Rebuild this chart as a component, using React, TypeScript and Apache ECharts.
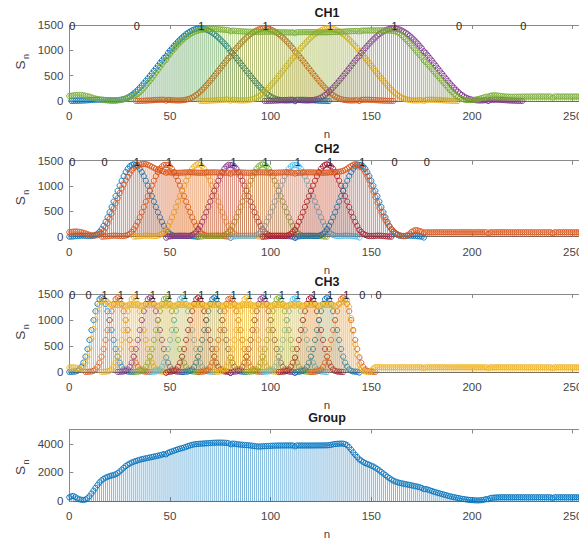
import React, { useEffect, useRef } from "react";
import * as echarts from "echarts";

// ---------- DATA ----------
const X_MAX = 256;
const X_TICK = 50;

// MATLAB default colour order
const COLOR_ORDER = ["#0072BD", "#D95319", "#EDB120", "#7E2F8E", "#77AC30", "#4DBEEE", "#A2142F"];

// CH1: symbol bits written on top, their n positions, pulse centres, one pulse profile (offsets -64..64), sum curve
const CH1_BITS = [0, 0, 1, 1, 1, 1, 0, 0];
const CH1_BIT_N = [0, 32, 64, 96, 128, 160, 192, 224];
const CH1_CENTERS = [65, 97, 129, 161];
const CH1_PULSE = [
  1, 2, 3, 4, 5, 7, 9, 11, 14, 17, 20, 22, 24, 25, 25, 24, 22, 19, 16, 13, 11, 10, 11, 14, 19, 26, 36, 50, 68, 91, 118, 149,
  184, 222, 263, 306, 351, 398, 446, 495, 545, 595, 646, 697, 748, 799, 849, 899, 948, 996, 1043, 1089, 1133, 1175, 1215,
  1253, 1288, 1320, 1348, 1373, 1394, 1411, 1424, 1432,
  1435,
  1432, 1424, 1411, 1394, 1373, 1348, 1320, 1288, 1253, 1215, 1175, 1133, 1089, 1043, 996, 948, 899, 849, 799, 748, 697,
  646, 595, 545, 495, 446, 398, 351, 306, 263, 222, 184, 149, 118, 91, 68, 50, 36, 26, 19, 14, 11, 10, 11, 13, 16, 19, 22,
  24, 25, 25, 24, 22, 20, 17, 14, 11, 9, 7, 5, 4, 3, 2, 1,
];
const CH1_SUM = [
  100, 105, 110, 115, 118, 120, 118, 112, 104, 95,
  85, 72, 60, 48, 38, 30, 24, 20, 17, 15,
  14, 13, 13, 14, 16, 20, 26, 34, 45, 58,
  72, 88, 105, 120, 140, 170, 210, 255, 305, 350,
  400, 450, 505, 560, 615, 670, 725, 780, 830, 880,
  930, 980, 1025, 1070, 1115, 1155, 1195, 1230, 1262, 1290,
  1318, 1342, 1362, 1378, 1390, 1400, 1406, 1411, 1415, 1418,
  1420, 1420, 1420, 1418, 1416, 1413, 1410, 1406, 1402, 1398,
  1394, 1390, 1386, 1382, 1379, 1376, 1373, 1371, 1369, 1367,
  1366, 1365, 1364, 1364, 1364, 1365, 1366, 1367, 1368, 1368,
  1367, 1366, 1364, 1362, 1360, 1358, 1356, 1355, 1354, 1354,
  1354, 1355, 1356, 1357, 1358, 1359, 1360, 1360, 1360, 1360,
  1360, 1359, 1358, 1357, 1356, 1355, 1355, 1355, 1356, 1357,
  1358, 1360, 1362, 1364, 1366, 1368, 1370, 1372, 1374, 1376,
  1378, 1380, 1382, 1384, 1386, 1388, 1389, 1390, 1391, 1392,
  1393, 1394, 1395, 1396, 1396, 1396, 1395, 1394, 1392, 1390,
  1387, 1383, 1375, 1360, 1336, 1300, 1260, 1220, 1180, 1139,
  1093, 1047, 1001, 955, 908, 862, 816, 770, 723, 677,
  631, 585, 540, 494, 448, 402, 356, 310, 263, 217,
  180, 140, 105, 75, 53, 38, 28, 20, 18, 18,
  20, 24, 30, 38, 48, 60, 72, 85, 96, 104,
  110, 112, 110, 106, 100, 95, 90, 87, 85, 84,
  84, 84, 85, 85, 86, 86, 86, 87, 87, 87,
  87, 88, 88, 88, 88, 88, 88, 88, 88, 88,
  88, 88, 88, 88, 88, 88, 88, 88, 88, 88,
  88, 88, 88, 88, 88, 88,
];

// CH2
const CH2_BITS = [0, 0, 1, 1, 1, 1, 1, 1, 1, 1, 0, 0];
const CH2_BIT_N = [0, 16, 32, 48, 64, 80, 96, 112, 128, 144, 160, 176];
const CH2_CENTERS = [32, 48, 64, 80, 96, 112, 128, 144];
const CH2_PULSE = [
  1, 3, 6, 10, 14, 18, 20, 20, 18, 15, 13, 14, 20, 34, 58, 95, 146, 213, 293, 383, 482, 586, 693, 800, 905, 1008, 1105,
  1195, 1275, 1340, 1388, 1418,
  1430,
  1418, 1388, 1340, 1275, 1195, 1105, 1008, 905, 800, 693, 586, 482, 383, 293, 213, 146, 95, 58, 34, 20, 14, 13, 15, 18,
  20, 20, 18, 14, 10, 6, 3, 1,
];
const CH2_SUM = [
  90, 95, 100, 102, 100, 96, 88, 78, 65, 50,
  38, 28, 24, 25, 30, 45, 70, 110, 180, 265,
  355, 455, 560, 660, 760, 860, 950, 1030, 1110, 1180,
  1250, 1310, 1355, 1390, 1412, 1425, 1433, 1436, 1432, 1420,
  1402, 1382, 1360, 1340, 1322, 1308, 1295, 1285, 1278, 1272,
  1268, 1266, 1264, 1262, 1262, 1263, 1265, 1267, 1269, 1270,
  1270, 1269, 1267, 1265, 1263, 1262, 1262, 1264, 1266, 1268,
  1269, 1270, 1270, 1269, 1267, 1265, 1263, 1262, 1262, 1263,
  1265, 1267, 1269, 1270, 1270, 1269, 1267, 1265, 1263, 1262,
  1262, 1264, 1266, 1268, 1269, 1270, 1270, 1269, 1267, 1265,
  1263, 1262, 1262, 1263, 1265, 1267, 1269, 1270, 1270, 1269,
  1267, 1265, 1263, 1262, 1262, 1264, 1266, 1268, 1269, 1270,
  1270, 1269, 1267, 1265, 1263, 1262, 1262, 1263, 1265, 1268,
  1270, 1272, 1275, 1278, 1282, 1290, 1300, 1320, 1345, 1372,
  1398, 1420, 1432, 1425, 1400, 1370, 1338, 1270, 1190, 1109,
  1000, 890, 782, 675, 570, 480, 400, 325, 260, 200,
  150, 110, 75, 50, 30, 18, 12, 15, 30, 60,
  95, 120, 130, 125, 112, 100, 92, 88, 86, 86,
  86, 87, 87, 88, 88, 88, 88, 88, 88, 88,
  86, 87, 87, 88, 88, 88, 88, 88, 88, 88,
  86, 87, 87, 88, 88, 88, 88, 88, 88, 88,
  86, 87, 87, 88, 88, 88, 88, 88, 88, 88,
  86, 87, 87, 88, 88, 88, 88, 88, 88, 88,
  86, 87, 87, 88, 88, 88, 88, 88, 88, 88,
  86, 87, 87, 88, 88, 88, 88, 88, 88, 88,
  86, 87, 87, 88, 88, 88,
];

// CH3
const CH3_BITS = [0, 0, 1, 1, 1, 1, 1, 1, 1, 1, 1, 1, 1, 1, 1, 1, 1, 1, 0, 0];
const CH3_BIT_N = [0, 8, 16, 24, 32, 40, 48, 56, 64, 72, 80, 88, 96, 104, 112, 120, 128, 136, 144, 152];
const CH3_CENTERS = [16, 24, 32, 40, 48, 56, 64, 72, 80, 88, 96, 104, 112, 120, 128, 136];
const CH3_PULSE = [
  7, 10, 12, 16, 28, 55, 105, 185, 300, 445, 620, 810, 1000, 1170, 1310, 1400,
  1430,
  1400, 1310, 1170, 1000, 810, 620, 445, 300, 185, 105, 55, 28, 16, 12, 10, 7,
];
const CH3_SUM = [
  90, 95, 95, 90, 80, 70, 75, 110, 180, 300,
  460, 640, 830, 1010, 1170, 1290, 1360, 1385, 1375, 1345,
  1310, 1292, 1284, 1288, 1290, 1288, 1284, 1280, 1278, 1280,
  1284, 1288, 1290, 1288, 1284, 1280, 1278, 1280, 1284, 1288,
  1290, 1288, 1284, 1280, 1278, 1280, 1284, 1288, 1290, 1288,
  1284, 1280, 1278, 1280, 1284, 1288, 1290, 1288, 1284, 1280,
  1278, 1280, 1284, 1288, 1290, 1288, 1284, 1280, 1278, 1280,
  1284, 1288, 1290, 1288, 1284, 1280, 1278, 1280, 1284, 1288,
  1290, 1288, 1284, 1280, 1278, 1280, 1284, 1288, 1290, 1288,
  1284, 1280, 1278, 1280, 1284, 1288, 1290, 1288, 1284, 1280,
  1278, 1280, 1284, 1288, 1290, 1288, 1284, 1280, 1278, 1280,
  1284, 1288, 1290, 1288, 1284, 1280, 1278, 1280, 1284, 1288,
  1290, 1288, 1284, 1280, 1278, 1280, 1284, 1288, 1290, 1288,
  1284, 1280, 1278, 1282, 1300, 1340, 1360, 1385, 1380, 1250,
  1040, 790, 540, 330, 170, 80, 30, 12, 8, 10,
  30, 75, 98, 100, 98, 96, 95, 95, 95, 95,
  95, 95, 95, 96, 96, 96, 95, 95, 95, 95,
  95, 95, 95, 96, 96, 96, 95, 95, 95, 95,
  95, 95, 95, 96, 96, 96, 95, 95, 95, 95,
  95, 95, 95, 96, 96, 96, 95, 95, 95, 95,
  95, 95, 95, 96, 96, 96, 95, 95, 95, 95,
  95, 95, 95, 96, 96, 96, 95, 95, 95, 95,
  95, 95, 95, 96, 96, 96, 95, 95, 95, 95,
  95, 95, 95, 96, 96, 96, 95, 95, 95, 95,
  95, 95, 95, 96, 96, 96, 95, 95, 95, 95,
  95, 95, 95, 96, 96, 96,
];

// Group
const GROUP_SUM = [
  260, 330, 350, 280, 180, 120, 85, 70, 100, 190,
  330, 520, 720, 920, 1120, 1300, 1440, 1550, 1630, 1690,
  1740, 1780, 1820, 1870, 1950, 2060, 2190, 2320, 2440, 2540,
  2620, 2690, 2745, 2795, 2845, 2885, 2925, 2955, 2985, 3015,
  3045, 3075, 3105, 3135, 3165, 3200, 3240, 3280, 3320, 3370,
  3420, 3470, 3520, 3570, 3620, 3660, 3700, 3740, 3790, 3840,
  3890, 3930, 3960, 3980, 3995, 4005, 4015, 4025, 4035, 4045,
  4055, 4065, 4075, 4080, 4083, 4083, 4080, 4075, 4065, 4050,
  4030, 4015, 4000, 3980, 3960, 3945, 3930, 3920, 3910, 3895,
  3880, 3860, 3840, 3820, 3810, 3815, 3825, 3835, 3845, 3850,
  3858, 3865, 3870, 3875, 3878, 3880, 3882, 3884, 3885, 3886,
  3886, 3885, 3884, 3883, 3882, 3881, 3880, 3880, 3880, 3881,
  3882, 3883, 3884, 3885, 3886, 3887, 3888, 3890, 3895, 3905,
  3930, 3960, 3985, 4000, 4010, 4015, 4010, 3980, 3900, 3760,
  3580, 3400, 3230, 3080, 2950, 2830, 2730, 2650, 2590, 2530,
  2470, 2410, 2330, 2240, 2140, 2030, 1920, 1810, 1700, 1600,
  1500, 1420, 1360, 1310, 1270, 1240, 1210, 1180, 1150, 1120,
  1090, 1060, 1030, 1000, 960, 920, 880, 840, 800, 750,
  700, 650, 610, 570, 530, 490, 450, 410, 370, 330,
  300, 270, 240, 210, 180, 155, 130, 110, 90, 75,
  60, 50, 42, 40, 45, 60, 90, 130, 170, 200,
  225, 240, 250, 255, 258, 260, 260, 260, 260, 260,
  260, 261, 262, 262, 262, 261, 260, 260, 260, 260,
  260, 261, 262, 262, 262, 261, 260, 260, 260, 260,
  260, 261, 262, 262, 262, 261, 260, 260, 260, 260,
  260, 261, 262, 262, 262, 261,
];

const PANELS = [
  { title: "CH1", yMax: 1500, yTick: 500, bits: CH1_BITS, bitN: CH1_BIT_N, centers: CH1_CENTERS, pulse: CH1_PULSE, sum: CH1_SUM },
  { title: "CH2", yMax: 1500, yTick: 500, bits: CH2_BITS, bitN: CH2_BIT_N, centers: CH2_CENTERS, pulse: CH2_PULSE, sum: CH2_SUM },
  { title: "CH3", yMax: 1500, yTick: 500, bits: CH3_BITS, bitN: CH3_BIT_N, centers: CH3_CENTERS, pulse: CH3_PULSE, sum: CH3_SUM },
  { title: "Group", yMax: 5000, yTick: 2000, bits: [] as number[], bitN: [] as number[], centers: [] as number[], pulse: [] as number[], sum: GROUP_SUM },
];

// ---------- LAYOUT ----------
const FONT = "'Liberation Sans', Arial, Helvetica, sans-serif";
const CHART_W = 600; // the axes run past the right edge of the 579px window, as in the cropped original
const GRID_LEFT = 69.3;
const GRID_WIDTH = 515.5;
const GRID_TOPS = [25, 160.7, 294, 429.5];
const GRID_HEIGHTS = [76, 76, 78.3, 77.8];
const AXIS_COLOR = "#8a8a8a";
const TEXT_COLOR = "#454545";

function stemRenderer(color: string, stemWidth: number, stemOpacity: number) {
  return (_params: any, api: any) => {
    const n = api.value(0);
    const v = api.value(1);
    const top = api.coord([n, v]);
    const base = api.coord([n, 0]);
    return {
      type: "group",
      children: [
        { type: "line", silent: true, shape: { x1: top[0], y1: base[1], x2: top[0], y2: top[1] }, style: { stroke: color, lineWidth: stemWidth, opacity: stemOpacity } },
        { type: "circle", silent: true, shape: { cx: top[0], cy: top[1], r: 2.6 }, style: { fill: "none", stroke: color, lineWidth: 0.9 } },
      ],
    };
  };
}

function bitRenderer(_params: any, api: any) {
  const p = api.coord([api.value(0), api.value(1)]);
  return {
    type: "text",
    silent: true,
    x: p[0],
    y: p[1] + 1,
    style: { text: String(api.value(2)), fontSize: 11, fontFamily: FONT, fill: "#1e1e1e", align: "left", verticalAlign: "middle" },
  };
}

function buildOption() {
  const grids: any[] = [];
  const xAxes: any[] = [];
  const yAxes: any[] = [];
  const series: any[] = [];
  const graphics: any[] = [];

  PANELS.forEach((panel, i) => {
    grids.push({ left: GRID_LEFT, width: GRID_WIDTH, top: GRID_TOPS[i], height: GRID_HEIGHTS[i], containLabel: false });
    xAxes.push({
      type: "value", gridIndex: i, min: 0, max: X_MAX, interval: X_TICK, position: "bottom",
      axisLine: { show: true, onZero: false, lineStyle: { color: "#6a6a6a", width: 1 } },
      axisTick: { show: true, inside: true, length: 4, lineStyle: { color: AXIS_COLOR } },
      axisLabel: { show: true, color: TEXT_COLOR, fontSize: 11.5, fontFamily: FONT, margin: 9, showMaxLabel: false, formatter: (v: number) => String(v) },
      splitLine: { show: false },
      name: "n", nameLocation: "middle", nameGap: 27,
      nameTextStyle: { color: TEXT_COLOR, fontSize: 11.5, fontFamily: FONT },
    });
    yAxes.push({
      type: "value", gridIndex: i, min: 0, max: panel.yMax, interval: panel.yTick,
      axisLine: { show: true, lineStyle: { color: AXIS_COLOR, width: 1 } },
      axisTick: { show: true, inside: true, length: 4, lineStyle: { color: AXIS_COLOR } },
      axisLabel: {
        show: true, color: TEXT_COLOR, fontSize: 11.5, fontFamily: FONT, margin: 6,
        showMaxLabel: panel.yMax % panel.yTick === 0,
        formatter: (v: number) => String(v),
      },
      splitLine: { show: false },
    });

    // pulses
    panel.centers.forEach((c, k) => {
      const half = (panel.pulse.length - 1) / 2;
      const data: number[][] = [];
      panel.pulse.forEach((v, j) => {
        const n = c - half + j;
        if (n >= 0 && n < panel.sum.length) data.push([n, v]);
      });
      series.push({
        type: "custom", xAxisIndex: i, yAxisIndex: i, clip: false, silent: true,
        renderItem: stemRenderer(COLOR_ORDER[k % COLOR_ORDER.length], 0.5, 0.5),
        encode: { x: 0, y: 1 }, data,
      });
    });
    // sum / envelope
    const sumColor = COLOR_ORDER[panel.centers.length % COLOR_ORDER.length];
    series.push({
      type: "custom", xAxisIndex: i, yAxisIndex: i, clip: false, silent: true,
      renderItem: stemRenderer(sumColor, 0.6, 0.85),
      encode: { x: 0, y: 1 }, data: panel.sum.map((v, n) => [n, v]),
    });
    // bit labels on top
    if (panel.bits.length) {
      series.push({
        type: "custom", xAxisIndex: i, yAxisIndex: i, clip: false, silent: true, z: 10,
        renderItem: bitRenderer,
        encode: { x: 0, y: 1 },
        data: panel.bits.map((b, k) => [panel.bitN[k], panel.yMax, b]),
      });
    }

    const cx = GRID_LEFT + GRID_WIDTH / 2;
    const top = GRID_TOPS[i];
    const mid = top + GRID_HEIGHTS[i] / 2;
    graphics.push({
      type: "text", x: cx, y: top - 12, silent: true,
      style: { text: panel.title, font: `bold 12.5px ${FONT}`, fill: "#1a1a1a", align: "center", verticalAlign: "middle" },
    });
    graphics.push({
      type: "text", x: 20, y: mid + 2, rotation: Math.PI / 2, silent: true,
      style: { text: "S", font: `13.5px ${FONT}`, fill: TEXT_COLOR, align: "center", verticalAlign: "middle" },
    });
    graphics.push({
      type: "text", x: 26, y: mid - 6.5, rotation: Math.PI / 2, silent: true,
      style: { text: "n", font: `9px ${FONT}`, fill: TEXT_COLOR, align: "center", verticalAlign: "middle" },
    });
  });

  // top box edges with inward ticks
  PANELS.forEach((_p, i) => {
    xAxes.push({
      type: "value", gridIndex: i, min: 0, max: X_MAX, interval: X_TICK, position: "top",
      axisLine: { show: true, onZero: false, lineStyle: { color: AXIS_COLOR, width: 1 } },
      axisTick: { show: true, inside: true, length: 4, lineStyle: { color: AXIS_COLOR } },
      axisLabel: { show: false },
      splitLine: { show: false },
    });
  });

  return {
    animation: false,
    backgroundColor: "#ffffff",
    grid: grids,
    xAxis: xAxes,
    yAxis: yAxes,
    series,
    graphic: graphics,
  };
}

export default function App() {
  const ref = useRef<HTMLDivElement>(null);
  useEffect(() => {
    document.body.style.margin = "0";
    if (!ref.current) return;
    const chart = echarts.init(ref.current, undefined, { renderer: "svg" });
    chart.setOption(buildOption() as any);
    return () => chart.dispose();
  }, []);
  return (
    <div style={{ width: 579, height: 541, overflow: "hidden", position: "relative" }}>
      <div ref={ref} style={{ width: CHART_W, height: 541 }} />
    </div>
  );
}
